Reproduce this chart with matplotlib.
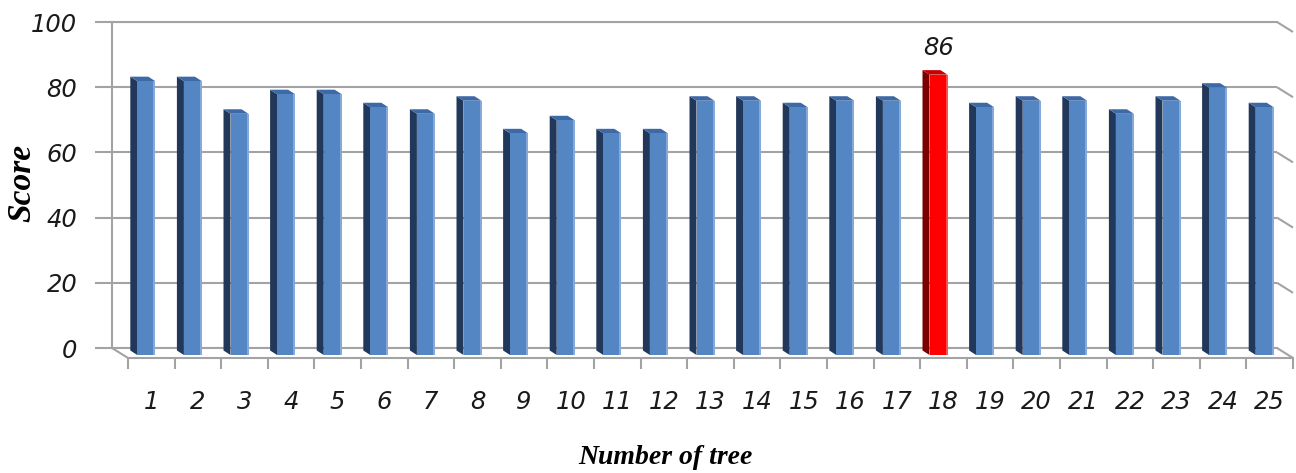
import matplotlib
matplotlib.use("Agg")
import matplotlib.pyplot as plt
from matplotlib.patches import Polygon, Rectangle

# ---- data ----
trees = list(range(1, 26))
tick_labels = [str(t) for t in trees]
scores = [84, 84, 74, 80, 80, 76, 74, 78, 68, 72, 68, 68, 78, 78, 76,
          78, 78, 86, 76, 78, 78, 74, 78, 82, 76]
highlight = 18
highlight_label = "86"
y_ticks = [0, 20, 40, 60, 80, 100]

# ---- figure / axes (back wall of the 3D chart) ----
W, H = 1296, 473
fig = plt.figure(figsize=(W / 100, H / 100), dpi=100)
L, R, T, B = 112, 1277, 22, 348
ax = fig.add_axes([L / W, 1 - B / H, (R - L) / W, (B - T) / H])
ax.set_xlim(0.5, 25.5)
ax.set_ylim(0, 100)

ppx = (R - L) / 25.0      # pixels per x unit
ppy = (B - T) / 100.0     # pixels per y unit

grid_c = "#A3A3A3"
grid_lw = 1.5

# depth of the floor (back -> front), pixels
floor_dx, floor_dy = 16 / ppx, -10 / ppy
# bar front face offset from the back wall, and bar depth
bar_fx, bar_fy = 11 / ppx, -7 / ppy
bar_dx, bar_dy = -7 / ppx, 4.5 / ppy
bar_w = 18 / ppx
hl_w = 2 / ppx

# gridlines on back wall + right side perspective edges
ax.set_yticks(y_ticks)
ax.set_yticklabels([str(v) for v in y_ticks])
ax.yaxis.grid(True, color=grid_c, lw=grid_lw, zorder=0)
ax.set_axisbelow(True)
for v in y_ticks:
    ax.plot([25.5, 25.5 + floor_dx], [v, v + floor_dy], color=grid_c,
            lw=grid_lw, clip_on=False, zorder=1, solid_capstyle="butt")

for s in ["left", "top", "bottom"]:
    ax.spines[s].set_color(grid_c)
    ax.spines[s].set_linewidth(grid_lw)
ax.spines["right"].set_visible(False)

# floor front edge and left corner
x0 = 0.5 + floor_dx
ax.plot([0.5, x0, 25.5 + floor_dx], [0, floor_dy, floor_dy], color=grid_c,
        lw=grid_lw, clip_on=False, zorder=1)
# category boundary ticks on the floor front edge
ax.vlines([x0 + k for k in range(26)], floor_dy, floor_dy - 11 / ppy,
          color=grid_c, lw=grid_lw, clip_on=False, zorder=1)

# y ticks
ax.tick_params(axis="y", length=12, width=grid_lw, color=grid_c, pad=13,
               labelsize=17.5, labelcolor="#1a1a1a")
for lab in ax.get_yticklabels():
    lab.set_fontstyle("italic")

# x ticks (category labels at the front of the floor)
ax.set_xticks([t + floor_dx for t in trees])
ax.set_xticklabels(tick_labels)
ax.tick_params(axis="x", length=0, pad=30, labelsize=17.5, labelcolor="#1a1a1a")
for lab in ax.get_xticklabels():
    lab.set_fontstyle("italic")

# ---- bars ----
front_cols = ["#FF0000" if t == highlight else "#5586C4" for t in trees]
side_cols = ["#7A0000" if t == highlight else "#22385A" for t in trees]
cap_cols = ["#C80000" if t == highlight else "#3D69A6" for t in trees]
edge_cols = ["#FF5050" if t == highlight else "#86A9DA" for t in trees]

xs = [t + bar_fx for t in trees]
bars = ax.bar(xs, scores, width=bar_w, bottom=bar_fy, color=front_cols,
              edgecolor="none", zorder=4, clip_on=False)

for bar, sc, cc, ec in zip(bars, side_cols, cap_cols, edge_cols):
    xl = bar.get_x()
    xr = xl + bar.get_width()
    yb = bar.get_y()
    yt = yb + bar.get_height()
    side = Polygon([(xl, yb), (xl, yt), (xl + bar_dx, yt + bar_dy),
                    (xl + bar_dx, yb + bar_dy)], closed=True,
                   facecolor=sc, edgecolor="none", zorder=3, clip_on=False)
    cap = Polygon([(xl, yt), (xr, yt), (xr + bar_dx, yt + bar_dy),
                   (xl + bar_dx, yt + bar_dy)], closed=True,
                  facecolor=cc, edgecolor="none", zorder=3, clip_on=False)
    shine = Rectangle((xr - hl_w, yb), hl_w, yt - yb, facecolor=ec,
                      edgecolor="none", zorder=5, clip_on=False)
    ax.add_patch(side)
    ax.add_patch(cap)
    ax.add_patch(shine)

# highlight label
hb = bars[trees.index(highlight)]
ax.annotate(highlight_label,
            (hb.get_x() + hb.get_width() / 2, hb.get_y() + hb.get_height()),
            xytext=(0, 14), textcoords="offset points", ha="center",
            va="baseline", fontsize=17.5, fontstyle="italic", color="#1a1a1a",
            annotation_clip=False)

# axis titles
ax.set_ylabel("Score", family="Liberation Serif", fontsize=24,
              fontweight="bold", fontstyle="italic")
ax.yaxis.label.set_va("center")
ax.yaxis.set_label_coords((22 - L) / (R - L), (B - 183) / (B - T))
ax.set_xlabel("Number of tree", family="Liberation Serif", fontsize=20,
              fontweight="bold", fontstyle="italic")
ax.xaxis.label.set_va("center")
ax.xaxis.set_label_coords((665 - L) / (R - L), (B - 457) / (B - T))

fig.savefig("out.png", dpi=100, facecolor="white")
